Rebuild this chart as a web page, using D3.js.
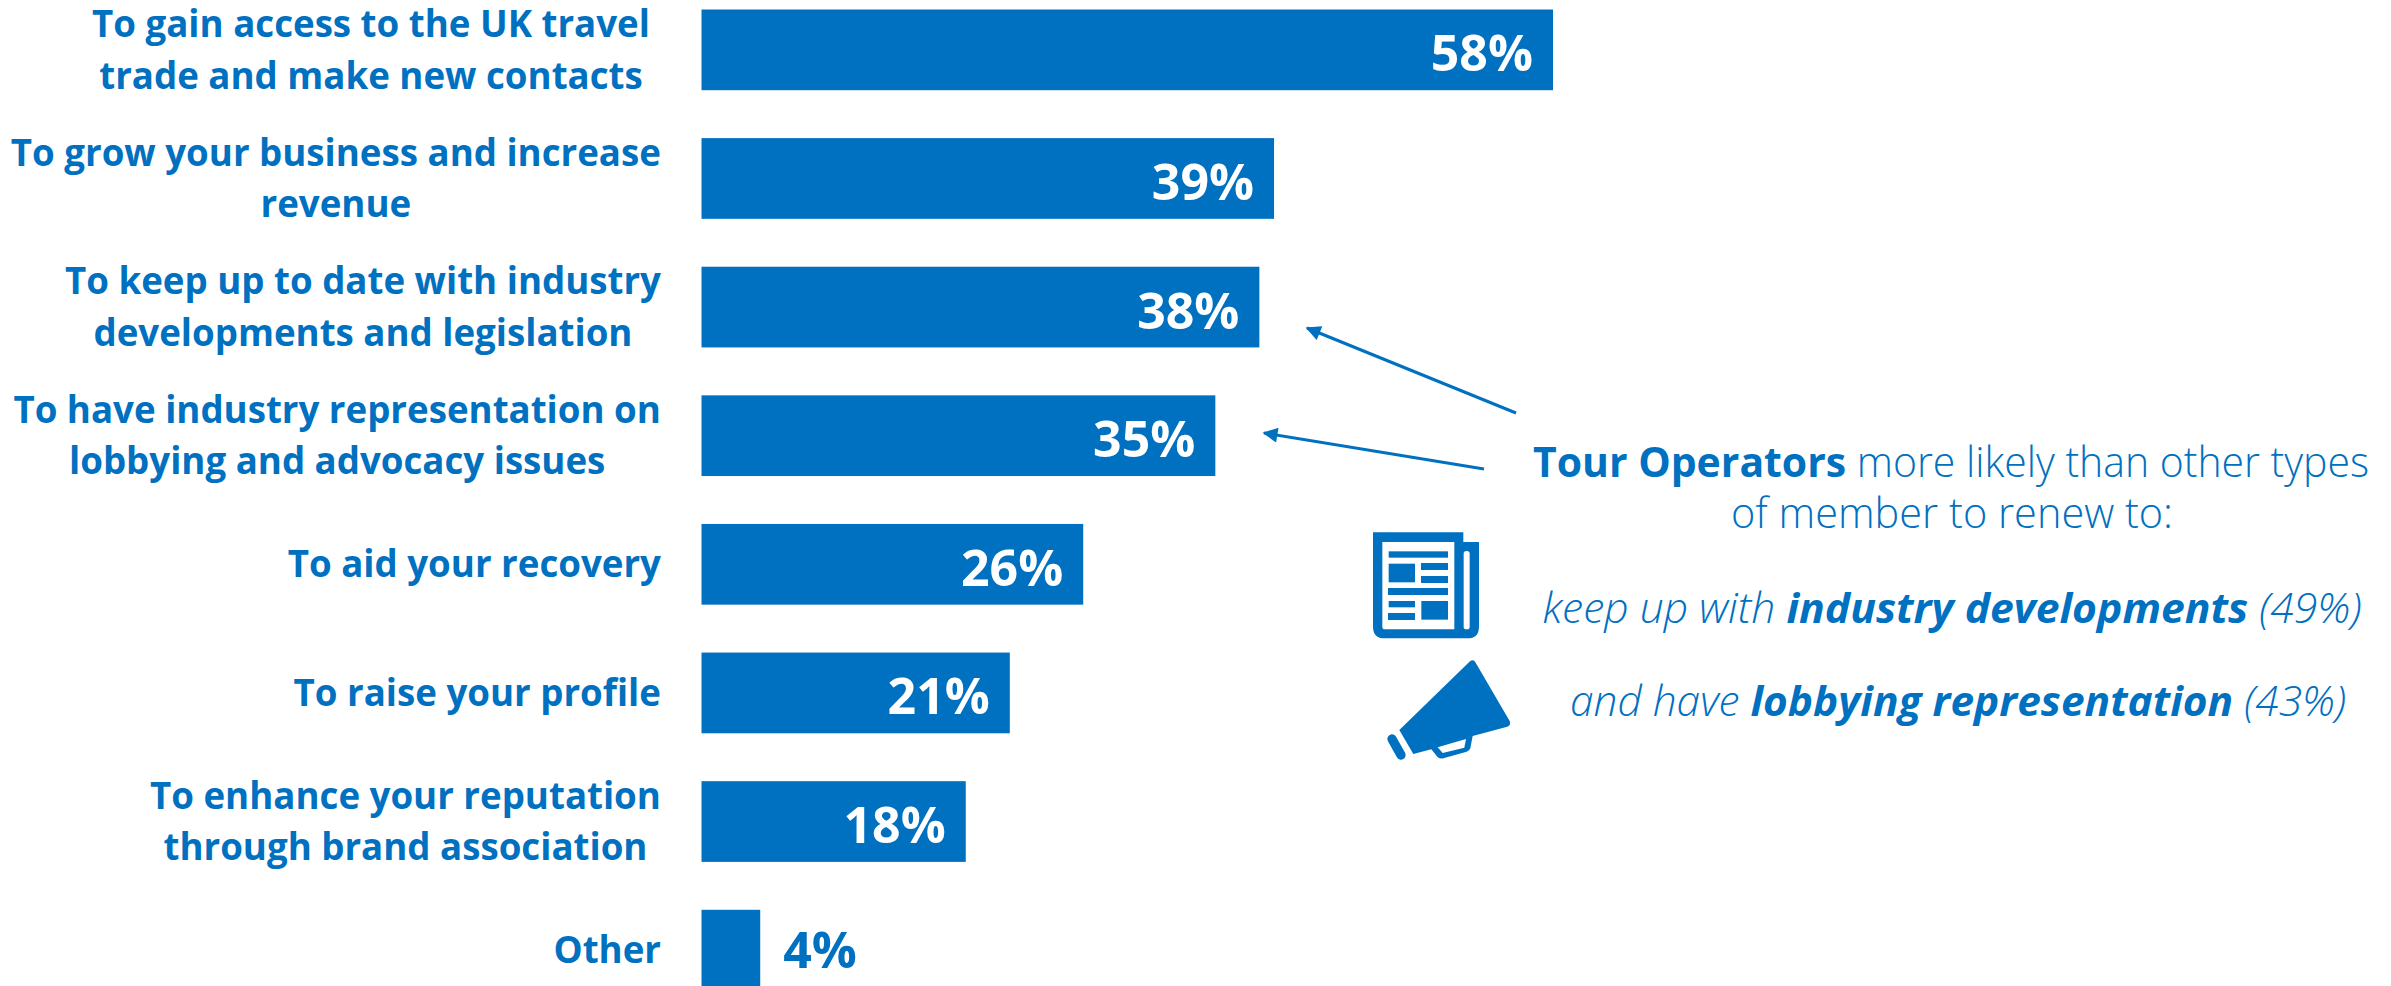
<!DOCTYPE html>
<html lang="en">
<head>
<meta charset="utf-8">
<title>Reasons to renew membership</title>
<script src="https://cdn.jsdelivr.net/npm/d3@7"></script>
<style>
  html, body { margin: 0; padding: 0; background: #fff; overflow: hidden; }
  svg { display: block; font-family: "Open Sans", sans-serif; }
</style>
</head>
<body>
<div id="chart"></div>
<script>
// Survey results: share of members naming each reason for renewing.
const categoryLines = [
  ["To gain access to the UK travel", "trade and make new contacts"],
  ["To grow your business and increase", "revenue"],
  ["To keep up to date with industry", "developments and legislation"],
  ["To have industry representation on", "lobbying and advocacy issues"],
  ["To aid your recovery"],
  ["To raise your profile"],
  ["To enhance your reputation", "through brand association"],
  ["Other"]
];
const shares = [58, 39, 38, 35, 26, 21, 18, 4];

// Call-out copy: each line is a list of [text, weight, style] runs.
const calloutLines = [
  { runs: [["Tour Operators", 700, "normal"], [" more likely than other types", 350, "normal"]], cx: 1951, base: 477, fit: 836 },
  { runs: [["of member to renew to:", 350, "normal"]], cx: 1952, base: 528, fit: 442 },
  { runs: [["keep up with ", 350, "italic"], ["industry developments", 700, "italic"], [" (49%)", 350, "italic"]], cx: 1952, base: 623, fit: 819 },
  { runs: [["and have ", 350, "italic"], ["lobbying representation", 700, "italic"], [" (43%)", 350, "italic"]], cx: 1958, base: 716, fit: 776 }
];

const BLUE = "#0070c0";
const width = 2391, height = 986;

const svg = d3.select("#chart").append("svg")
  .attr("width", width).attr("height", height)
  .attr("viewBox", [0, 0, width, height]);

svg.append("defs").append("marker")
  .attr("id", "arrow-head")
  .attr("viewBox", "0 0 10 10")
  .attr("refX", 9).attr("refY", 5)
  .attr("markerUnits", "userSpaceOnUse")
  .attr("markerWidth", 17).attr("markerHeight", 15)
  .attr("orient", "auto")
  .append("path").attr("d", "M0,0 L10,5 L0,10 Z").attr("fill", BLUE);

const x = d3.scaleLinear().domain([0, 58]).range([701.5, 1553]);
const y = d3.scaleBand()
  .domain(d3.range(shares.length))
  .range([9.5, 990.5])
  .paddingInner(0.3725)
  .paddingOuter(0);

// Bars
svg.append("g").selectAll("rect")
  .data(shares)
  .join("rect")
  .attr("x", x(0))
  .attr("y", (d, i) => y(i))
  .attr("width", d => x(d) - x(0))
  .attr("height", y.bandwidth())
  .attr("fill", BLUE);

// Value labels: inside the bar, or just past its end when the bar is short
const INSIDE_MIN = 10;
svg.append("g").selectAll("text")
  .data(shares)
  .join("text")
  .attr("x", d => d >= INSIDE_MIN ? x(d) - 20 : x(d) + 23)
  .attr("y", (d, i) => y(i) + y.bandwidth() / 2 + (d >= INSIDE_MIN ? 21.5 : 18))
  .attr("text-anchor", d => d >= INSIDE_MIN ? "end" : "start")
  .attr("font-size", 50)
  .attr("font-weight", 700)
  .attr("fill", d => d >= INSIDE_MIN ? "#fff" : BLUE)
  .text(d => d + "%");

// Category labels: the block sits flush right, its lines centred within it.
// The first label stops short of the shared right edge.
const LABEL_RIGHT = 661, FIRST_LABEL_RIGHT = 650, LABEL_LEADING = 51.5, LABEL_SQUEEZE = 0.965;
const labels = svg.append("g")
  .attr("fill", BLUE).attr("font-size", 38).attr("font-weight", 700);

categoryLines.forEach((lines, i) => {
  const g = labels.append("g");
  const midY = y(i) + y.bandwidth() / 2;
  const firstBase = midY + 13 - (lines.length - 1) * LABEL_LEADING / 2;
  const rows = g.selectAll("text").data(lines).join("text")
    .attr("y", (d, j) => firstBase + j * LABEL_LEADING)
    .attr("text-anchor", "middle")
    .text(d => d);
  const widest = d3.max(rows.nodes(), n => n.getComputedTextLength()) * LABEL_SQUEEZE;
  const right = i === 0 ? FIRST_LABEL_RIGHT : LABEL_RIGHT;
  g.attr("transform", `translate(${right - widest / 2},0) scale(${LABEL_SQUEEZE},1)`);
});

// Arrows from the call-out back to the bars they refer to
const pointers = [
  { from: [1516, 413], to: [1307, 328] },
  { from: [1484, 469], to: [1264, 433] }
];
svg.append("g").selectAll("line").data(pointers).join("line")
  .attr("x1", d => d.from[0]).attr("y1", d => d.from[1])
  .attr("x2", d => d.to[0]).attr("y2", d => d.to[1])
  .attr("stroke", BLUE).attr("stroke-width", 3)
  .attr("marker-end", "url(#arrow-head)");

// Call-out text, squeezed to its set width
const callout = svg.append("g").attr("fill", BLUE).attr("font-size", 42);
calloutLines.forEach(line => {
  const t = callout.append("text")
    .attr("x", line.cx).attr("y", line.base)
    .attr("text-anchor", "middle")
    .attr("textLength", line.fit)
    .attr("lengthAdjust", "spacingAndGlyphs");
  line.runs.forEach(([text, weight, style]) => {
    t.append("tspan")
      .attr("font-weight", weight)
      .attr("font-style", style)
      .attr("xml:space", "preserve")
      .text(text);
  });
});

// Newspaper and megaphone pictograms
const icons = svg.append("g").attr("transform", "translate(1360,520) scale(0.3333)");
icons.append("path").attr("fill", BLUE)
  .attr("d", "M39,37 H310 V66 H357 V320 Q357,355 322,355 H74 Q39,355 39,320 Z");
icons.append("path").attr("fill", "#fff")
  .attr("d", "M67,66 H283 V328 H75 Q67,328 67,320 Z");
icons.append("rect").attr("fill", "#fff")
  .attr("x", 311).attr("y", 93).attr("width", 18).attr("height", 235).attr("rx", 8);
const columnBlocks = [
  [86, 94, 178, 19], [86, 131, 79, 56], [183, 129, 81, 21], [183, 168, 81, 21],
  [84, 204, 180, 21], [86, 243, 79, 19], [84, 279, 81, 21], [184, 243, 80, 56]
];
icons.append("g").attr("fill", BLUE).selectAll("rect").data(columnBlocks).join("rect")
  .attr("x", d => d[0]).attr("y", d => d[1]).attr("width", d => d[2]).attr("height", d => d[3]);
icons.append("path").attr("fill", BLUE)
  .attr("d", "M118,630 L330,424 Q340,416 347,428 L449,603 Q454,615 442,620 L338,648 L331,685 Q329,692 320,695 L250,715 Q240,718 232,710 L214,688 L160,702 Z");
icons.append("path").attr("fill", "#fff")
  .attr("d", "M233,682 L318,657 L313,683 L248,699 Z");
icons.append("line").attr("stroke", BLUE).attr("stroke-width", 28).attr("stroke-linecap", "round")
  .attr("x1", 96).attr("y1", 657).attr("x2", 123).attr("y2", 705);
</script>
</body>
</html>
